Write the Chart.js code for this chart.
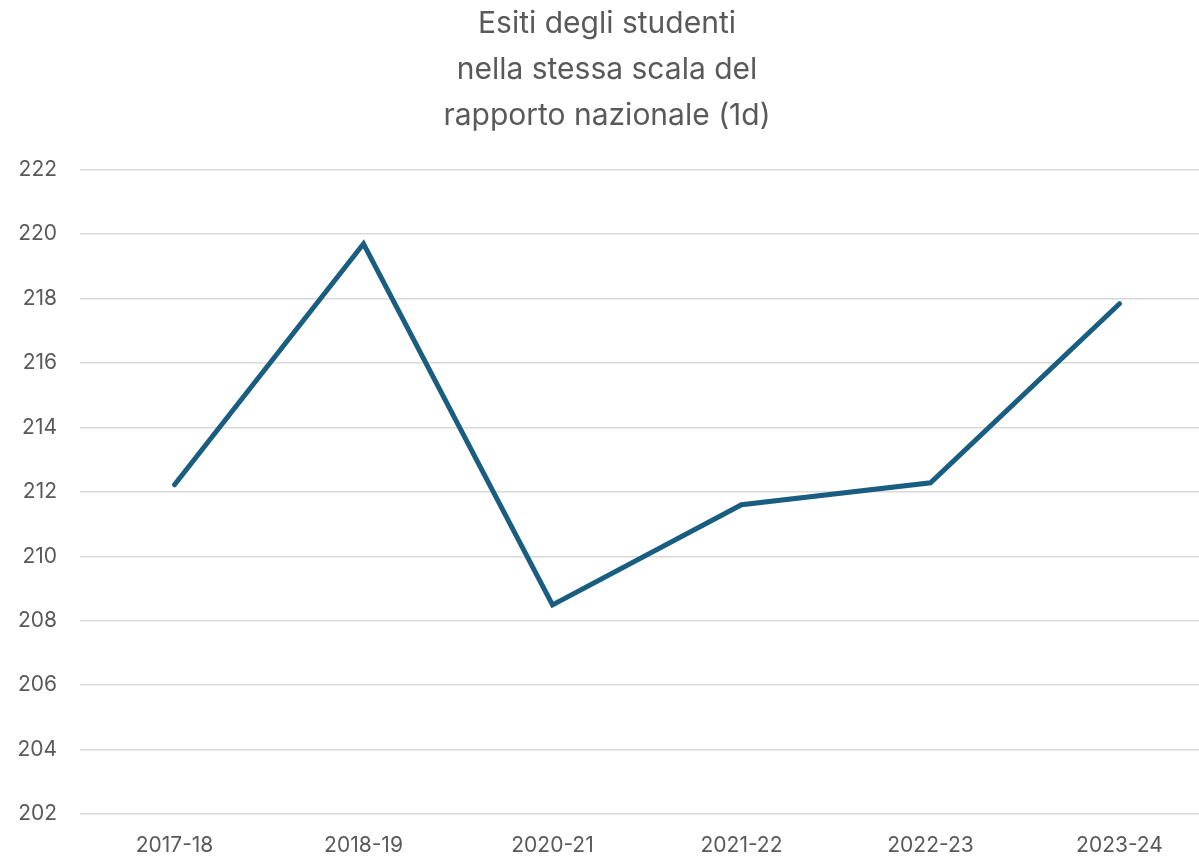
<!DOCTYPE html>
<html><head><meta charset="utf-8">
<script src="https://cdn.jsdelivr.net/npm/chart.js@4/dist/chart.umd.min.js"></script>
<style>html,body{margin:0;padding:0;overflow:hidden;background:#fff;width:1199px;height:858px}canvas{display:block}</style>
</head><body>
<canvas id="c" width="1248" height="858"></canvas>
<script>
const categories = ["2017-18","2018-19","2020-21","2021-22","2022-23","2023-24"];
const esiti = [212.22, 219.70, 208.49, 211.60, 212.28, 217.84];
const titleLines = ["Esiti degli studenti","nella stessa scala del","rapporto nazionale (1d)"];
const yMin = 202, yMax = 222, yStep = 2;

new Chart(document.getElementById('c'), {
  type: 'line',
  data: { labels: categories, datasets: [{
    data: esiti, borderColor: '#195E80', borderWidth: 5, pointRadius: 0,
    borderCapStyle: 'round', borderJoinStyle: 'miter', tension: 0, fill: false
  }]},
  options: {
    responsive: false, animation: false, devicePixelRatio: 1,
    layout: { padding: { left: 0, right: 34, top: 0, bottom: 0 } },
    plugins: {
      legend: { display: false }, tooltip: { enabled: false },
      title: { display: true, text: titleLines, color: '#595959',
        font: { family: 'Inter, "Open Sans", sans-serif', size: 30, weight: 'normal', lineHeight: 1.53 },
        padding: { top: 1, bottom: 31 } }
    },
    scales: {
      x: { offset: true,
        grid: { display: false, drawTicks: false }, border: { display: false },
        ticks: { color: '#595959', padding: 19, maxRotation: 0,
          font: { family: 'Inter, "Open Sans", sans-serif', size: 21 } },
        afterFit(s) { s.height = 44; } },
      y: { min: yMin, max: yMax,
        grid: { color: '#d9d9d9', lineWidth: 1.5, drawTicks: false }, border: { display: false },
        ticks: { stepSize: yStep, color: '#595959', padding: 23,
          font: { family: 'Inter, "Open Sans", sans-serif', size: 21 } },
        afterFit(s) { s.width = 80; } }
    }
  }
});
</script>
</body></html>
